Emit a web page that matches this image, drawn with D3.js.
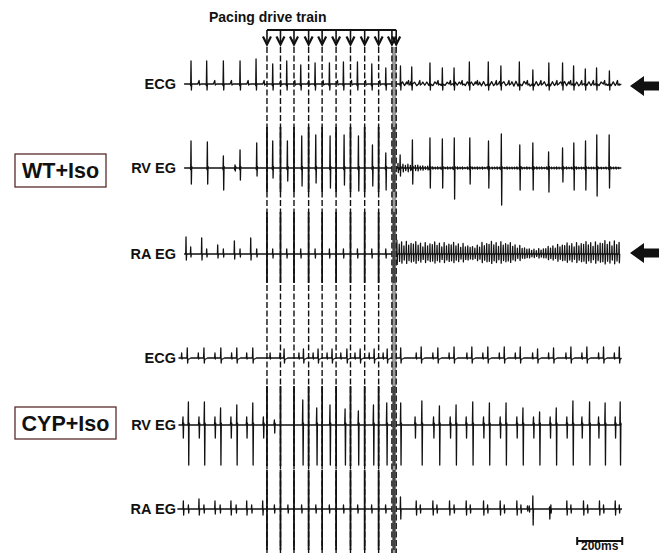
<!DOCTYPE html>
<html><head><meta charset="utf-8">
<script src="https://cdn.jsdelivr.net/npm/d3@7"></script>
<style>
body{margin:0;background:#fff}
svg{display:block}
text{font-family:"Liberation Sans",Arial,sans-serif;font-weight:bold;fill:#111}
</style>
</head><body>
<svg id="c" width="659" height="553"></svg>
<script>
// ---------------- DATA (time in ms, amplitude in arbitrary units) ----------------
const stimTimes = [373,433,493,558,618,680,744,807,869,928,947];
const scaleBarMs = 200;
const scaleBarStart = 1751;

// WT+Iso
const wtEcgBeats = [ // [t, R amplitude]
  [35.6,2.3],[105.2,2.3],[179.3,2.3],[253.4,2.3],[324.5,2.5],
  [398.5,2.0],[460.8,2.3],[523,1.9],[586.7,2.1],[650.4,2.1],[712.6,2.2],[774.9,2.2],[838.6,2.0],[900.8,1.6],
  [966,1.8],[1016,1.7],[1097,2.1],[1152,1.6],[1204,1.6],[1272,2.2],[1356,2.2],[1412,1.8],[1494,2.2],[1554,1.4],
  [1625,2.1],[1686,2.1],[1735,1.8],[1787,1.5],[1837,1.6],[1894,1.3]
];
const wtEcgNoiseEnvelope = [[950,0.22],[1200,0.2],[1500,0.28],[1950,0.2]];
const wtRvBeats = [ // [t, up, down]
  [35.6,2.7,1.6],[108.2,2.6,1.6],[179.3,1.2,2.2],[231,0.3,0.3],[253.4,1.8,1.2],[327.4,2.5,0.8],
  [398.5,2.7,1.0],[463.7,2.7,1.3],[527.4,3.2,1.8],[589.7,3.3,1.5],[653.4,3.2,2.0],[715.6,3.3,1.7],
  [779.3,3.2,2.3],[841.5,2.3,1.8],[900.8,1.5,2.2],[964.5,1.3,0.8],
  [1019,2.8,1.6],[1097,3.0,2.0],[1152,2.9,2.0],[1205,3.0,3.1],[1274,3.0,1.6],[1357,2.7,2.0],
  [1414,3.4,3.7],[1496,2.3,2.2],[1554,2.5,2.2],[1624,1.6,2.4],[1686,2.0,1.4],[1736,2.5,2.2],
  [1788,2.7,2.2],[1838,3.3,2.8],[1893,3.3,2.0]
];
const wtRvFibEnvelope = [[955,0.45],[1000,0.4],[1060,0.25],[1120,0.12],[1950,0.1]];
const wtRaBeats = [ // [t, up, down]
  [13.4,1.7,0.6],[34.1,0.7,0.3],[83,1.6,0.6],[105.2,0.5,0.3],[154.1,0.9,0.4],[179.3,0.5,0.3],
  [228.2,1.3,0.5],[253.4,0.5,0.3],[300.8,1.6,0.6],[327.4,0.5,0.3],
  [398.5,0.5,0.4],[460.8,0.5,0.4],[523,0.5,0.4],[586.7,0.5,0.4],[650.4,0.5,0.4],[712.6,0.5,0.4],
  [774.9,0.5,0.4],[838.6,0.5,0.4],[900.8,0.5,0.4]
];
const wtRaFibEnvelope = [ // [t, amplitude] of atrial fibrillation
  [942,1.4],[1000,1.3],[1053,1.2],[1150,1.2],[1250,1.1],[1290,0.7],[1320,1.2],[1420,1.3],
  [1498,0.9],[1540,0.5],[1600,0.6],[1658,1.0],[1750,1.2],[1850,1.3],[1950,1.4]
];

// CYP+Iso
const cypEcgR = [ // [t, R amplitude]
  [19,1.0],[93,1.0],[168,1.0],[239,1.0],[310,1.0],
  [449,0.9],[535,0.9],[600,0.9],[662,0.9],[728,0.9],[787,0.9],[849,0.9],[907,0.9],
  [967,1.0],[1058,1.1],[1132,1.0],[1204,1.1],[1283,1.1],[1354,1.1],[1427,1.1],[1498,1.1],
  [1575,0.9],[1646,1.0],[1723,1.1],[1794,1.1],[1868,1.1],[1938,1.1]
];
const cypEcgP = [
  -6,68,142,216,283,387,431,515,578,640,701,764,827,889,
  945,1036,1110,1182,1261,1332,1405,1476,1553,1624,1701,1772,1846,1916
];
const cypRvBeats = [ // [t, up, down]
  [0,0.8,1.3],[24,2.3,4.0],[71,0.8,1.3],[95,2.3,4.0],[142,0.8,1.3],[167,1.7,4.0],[213,0.8,1.3],
  [239,2.0,4.0],[283,0.8,1.3],[310,2.2,4.0],[357,0.8,1.3],
  [406,0.5,0.8],[532,2.5,4.0],[594,1.7,4.0],[653,2.0,4.0],[720,1.6,4.0],[779,1.4,4.0],
  [846,2.0,4.0],[905,2.2,4.0],[967,2.2,4.0],
  [1031,0.8,1.3],[1061,2.4,4.0],[1113,0.8,1.3],[1139,1.9,4.0],[1187,0.8,1.3],[1213,2.0,4.0],
  [1258,0.8,1.3],[1287,2.3,4.0],[1335,0.8,1.3],[1361,2.2,4.0],[1409,0.8,1.3],[1435,2.2,4.0],
  [1483,0.8,1.3],[1510,1.7,4.0],[1557,0.8,1.3],[1584,1.3,4.0],[1631,0.8,1.3],[1658,1.7,4.0],
  [1705,0.8,1.3],[1732,2.4,4.0],[1772,0.8,1.3],[1806,2.3,4.0],[1846,0.8,1.3],[1875,2.2,4.0],
  [1920,0.8,1.3],[1942,2.3,4.0]
];
const cypRaBeats = [ // [t, up, down]
  [1.5,0.8,0.6],[24,0.4,0.4],[71,1.0,0.6],[93,0.4,0.4],[142,0.8,0.5],[165,0.4,0.4],
  [213,0.8,0.6],[236,0.4,0.4],[283,0.8,0.6],[305,0.4,0.4],[354,0.8,0.6],
  [406,0.4,0.4],[466,0.4,0.4],[527,0.4,0.4],[590,0.4,0.4],[650,0.4,0.4],[713,0.4,0.4],
  [776,0.4,0.4],[838,0.4,0.4],[900,0.4,0.4],
  [966,1.2,1.0],[1036,0.8,0.6],[1054,0.4,0.4],[1110,0.8,0.6],[1128,0.4,0.4],[1184,0.8,0.6],
  [1204,0.4,0.4],[1258,0.8,0.6],[1276,0.4,0.4],[1335,0.8,0.6],[1353,0.4,0.4],[1409,0.8,0.6],
  [1427,0.4,0.4],[1483,0.8,0.6],[1501,0.4,0.4],[1530,0.3,0.2],[1538,0.3,0.3],[1554,1.3,1.6],
  [1628,0.2,1.0],[1634,0.4,0.4],[1705,0.8,0.6],[1723,0.4,0.4],[1779,0.8,0.6],[1797,0.4,0.4],
  [1850,0.8,0.6],[1868,0.4,0.4],[1920,0.8,0.6],[1938,0.4,0.4]
];

// ---------------- DRAWING ----------------
const svg = d3.select("#c");
const x = d3.scaleLinear().domain([0, 1950]).range([183, 622]);
const yFor = base => d3.scaleLinear().domain([-1, 1]).range([base + 10, base - 10]);
const mult = [1,0.72,0.9,0.6,0.95,0.68,0.84,0.78];

function spike(t, up, down) { return [[t-1.2,0],[t,up],[t+1.4,-down],[t+2.8,0]]; }
function envScale(env) {
  return d3.scaleLinear().domain(env.map(d=>d[0])).range(env.map(d=>d[1])).clamp(true);
}
function fib(env, cyc, ratio, start, end) {
  const amp = envScale(env);
  const pts = []; let i = 0;
  for (let t = start; t < end; t += cyc, i++) {
    const a = amp(t) * mult[i % mult.length];
    pts.push(...spike(t, a, a*ratio));
  }
  return pts;
}
function wobble(env, half, start, end) {
  const amp = envScale(env);
  const pts = []; let i = 0;
  for (let t = start; t < end; t += half, i++) {
    pts.push([t, (i % 2 ? -1 : 1) * amp(t) * mult[i % mult.length]]);
  }
  return pts;
}
function drawTrace(pts, base, t0, t1) {
  pts = pts.filter(p => p[0] > t0 && p[0] < t1);
  pts.push([t0,0],[t1,0]);
  pts.sort((a,b)=>a[0]-b[0]);
  const y = yFor(base);
  svg.append("path")
    .attr("d", d3.line().x(d=>x(d[0])).y(d=>y(d[1]))(pts))
    .attr("fill","none").attr("stroke","#111").attr("stroke-width",1.3)
    .attr("stroke-linejoin","round");
}

// Row bases (layout)
const B = {wtEcg:84, wtRv:168, wtRa:254, cypEcg:358, cypRv:425, cypRa:509};

// WT ECG
{
  const pts = [];
  wtEcgBeats.forEach(([t,a]) => {
    pts.push([t-3,0],[t-1.5,-0.15],[t,a],[t+1.6,-0.6],[t+3.2,0]);
    pts.push([t+30,0],[t+36,0.35],[t+38,-0.1],[t+44,0]);
  });
  pts.push(...wobble(wtEcgNoiseEnvelope, 9, 975, 1940).filter(p => !wtEcgBeats.some(b => Math.abs(b[0]-p[0]) < 5 || Math.abs(b[0]+36-p[0]) < 8)));
  drawTrace(pts, B.wtEcg, 5, 1947);
}
// WT RV
{
  const pts = [];
  wtRvBeats.forEach(([t,u,d]) => pts.push([t-3,0],[t-1.5,-0.15],[t,u],[t+1.5,-d],[t+3,0.15],[t+4.5,0]));
  pts.push(...fib(wtRvFibEnvelope, 11, 1.0, 955, 1940).filter(p => !wtRvBeats.some(b => Math.abs(b[0]-p[0]) < 6)));
  drawTrace(pts, B.wtRv, 5, 1947);
}
// WT RA
{
  const pts = [];
  wtRaBeats.forEach(([t,u,d]) => pts.push(...spike(t,u,d)));
  pts.push(...fib(wtRaFibEnvelope, 10.5, 0.75, 950, 1938));
  drawTrace(pts, B.wtRa, 5, 1940);
}
// CYP ECG
{
  const pts = [];
  cypEcgP.forEach(t => pts.push([t-1.5,0],[t,0.5],[t+1.5,-0.1],[t+3,0]));
  cypEcgR.forEach(([t,a]) => {
    pts.push([t-1.5,0],[t,a],[t+1.6,-0.5],[t+3.2,-0.15],[t+12,-0.05],[t+16,0]);
  });
  drawTrace(pts, B.cypEcg, -20, 1948);
}
// CYP RV
{
  const pts = [];
  cypRvBeats.forEach(([t,u,d]) => pts.push([t-3,0],[t-1.5,0.2],[t,u],[t+1.5,-d],[t+3,0.2],[t+4.5,0]));
  drawTrace(pts, B.cypRv, -20, 1948);
}
// CYP RA
{
  const pts = [];
  cypRaBeats.forEach(([t,u,d]) => pts.push(...spike(t,u,d)));
  drawTrace(pts, B.cypRa, -25, 1950);
}

// Stimulus lines
const lastA = stimTimes[stimTimes.length-2], lastB = stimTimes[stimTimes.length-1];
svg.append("rect").attr("x", x(lastA)).attr("y", 47).attr("width", x(lastB)-x(lastA)).attr("height", 506)
  .attr("fill","#9a9a9a");
svg.selectAll("line.stim").data(stimTimes).enter().append("line")
  .attr("x1", d=>x(d)).attr("x2", d=>x(d)).attr("y1", 47).attr("y2", 553)
  .attr("stroke","#111").attr("stroke-width",1.4).attr("stroke-dasharray","6,2.5");
const solidBands = [[127,192],[212,283],[386,466],[470,550]];
solidBands.forEach(([a,b]) => {
  svg.selectAll(null).data(stimTimes.slice(0,-2)).enter().append("line")
    .attr("x1", d=>x(d)).attr("x2", d=>x(d)).attr("y1", a).attr("y2", b)
    .attr("stroke","#111").attr("stroke-width",1.8);
  svg.append("rect").attr("x", x(lastA)+0.8).attr("y", a).attr("width", x(lastB)-x(lastA)-1.6).attr("height", b-a)
    .attr("fill","#444");
});

// Pacing drive train annotation
svg.append("text").attr("x",209).attr("y",22).attr("font-size",14).text("Pacing drive train");
svg.append("line").attr("x1", x(stimTimes[0])).attr("x2", x(lastB)).attr("y1",30).attr("y2",30)
  .attr("stroke","#111").attr("stroke-width",1.8);
svg.selectAll("line.arr").data(stimTimes).enter().append("line")
  .attr("x1", d=>x(d)).attr("x2", d=>x(d)).attr("y1",30).attr("y2",44)
  .attr("stroke","#111").attr("stroke-width",1.6);
svg.selectAll("path.chev").data(stimTimes).enter().append("path")
  .attr("d", d=>`M${x(d)-4},36.5 L${x(d)},44.5 L${x(d)+4},36.5`)
  .attr("fill","none").attr("stroke","#111").attr("stroke-width",2.2);

// Row labels
const labels = [["ECG",B.wtEcg],["RV EG",B.wtRv],["RA EG",B.wtRa],["ECG",B.cypEcg],["RV EG",B.cypRv],["RA EG",B.cypRa]];
labels.forEach(([t,b]) => svg.append("text").attr("x",176).attr("y",b+5).attr("text-anchor","end")
  .attr("font-size",14.5).text(t));

// Group boxes
[["WT+Iso",15,154,91,33],["CYP+Iso",15,407,101,32]].forEach(([t,bx,by,bw,bh]) => {
  svg.append("rect").attr("x",bx).attr("y",by).attr("width",bw).attr("height",bh)
    .attr("fill","none").attr("stroke","#5a2b2b").attr("stroke-width",1.3);
  svg.append("text").attr("x",bx+bw/2).attr("y",by+bh/2+7.5).attr("text-anchor","middle")
    .attr("font-size",21.5).text(t);
});

// Right-side arrows
[B.wtEcg+2, B.wtRa-1].forEach(cy => {
  svg.append("path")
    .attr("d", `M630,${cy} L644,${cy-10} L644,${cy-4.5} L659,${cy-4.5} L659,${cy+4.5} L644,${cy+4.5} L644,${cy+10} Z`)
    .attr("fill","#111");
});

// Scale bar
const sb0 = x(scaleBarStart), sb1 = x(scaleBarStart + scaleBarMs);
svg.append("line").attr("x1",sb0).attr("x2",sb1).attr("y1",541).attr("y2",541).attr("stroke","#111").attr("stroke-width",2);
[sb0,sb1].forEach(v => svg.append("line").attr("x1",v).attr("x2",v).attr("y1",537).attr("y2",545)
  .attr("stroke","#111").attr("stroke-width",2));
svg.append("text").attr("x",(sb0+sb1)/2).attr("y",550).attr("text-anchor","middle").attr("font-size",12).text("200ms");
</script>
</body></html>
